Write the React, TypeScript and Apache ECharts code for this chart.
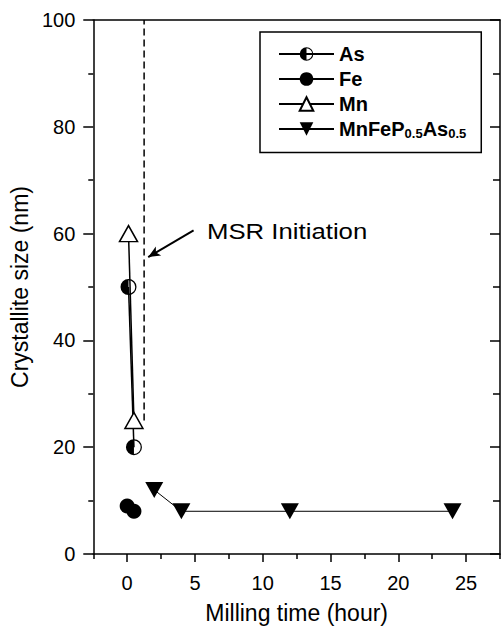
import React, { useEffect, useRef } from "react";
import * as echarts from "echarts";

const asData: number[][] = [[0.1, 50], [0.5, 20]];
const feData: number[][] = [[0, 9], [0.5, 8]];
const mnData: number[][] = [[0.1, 60], [0.5, 25]];
const alloyData: number[][] = [[2, 12], [4, 8], [12, 8], [24, 8]];
const msrLine: number[][] = [[1.25, 25], [1.25, 100]];
const msrArrow: number[][] = [[4.9, 60.6], [1.55, 55.6]];

const xMajor = [0, 5, 10, 15, 20, 25];
const xMinor = [-2.5, 2.5, 7.5, 12.5, 17.5, 22.5, 27.5];
const yMajor = [0, 20, 40, 60, 80, 100];
const yMinor = [10, 30, 50, 70, 90];

const seriesNames = ["As", "Fe", "Mn", "MnFeP0.5As0.5"];

const FONT = "'Liberation Sans', Arial, Helvetica, sans-serif";
const HALF =
  "path://M10,0 A10,10 0 0,0 10,20 Z M10,0 A10,10 0 0,1 10,20 L10,18.4 A8.4,8.4 0 0,0 10,1.6 Z";

export default function App() {
  const ref = useRef<HTMLDivElement>(null);
  useEffect(() => {
    if (!ref.current) return;
    const chart = echarts.init(ref.current, undefined, { renderer: "svg" });
    const black = "#000";
    const lineAx = { onZero: false, lineStyle: { color: black, width: 1.5 } };
    const noLine = { show: false, onZero: false };
    const common = { type: "value", min: -2.5, max: 27.5, splitLine: { show: false } };
    const yCommon = { type: "value", min: 0, max: 100, splitLine: { show: false } };
    chart.setOption({
      animation: false,
      backgroundColor: "#fff",
      grid: { left: 93, right: 2, top: 20, bottom: 71, containLabel: false },
      xAxis: [
        {
          ...common,
          position: "bottom",
          axisLine: lineAx,
          axisTick: { customValues: xMajor, length: 8, lineStyle: { color: black, width: 1.5 } },
          axisLabel: { customValues: xMajor, color: black, fontSize: 20, fontFamily: FONT, margin: 19 },
          name: "Milling time (hour)",
          nameLocation: "middle",
          nameGap: 47,
          nameTextStyle: { color: black, fontSize: 23, fontFamily: FONT },
        },
        {
          ...common,
          position: "bottom",
          axisLine: noLine,
          axisTick: { customValues: xMinor, length: 5, lineStyle: { color: black, width: 1.5 } },
          axisLabel: { show: false },
        },
        {
          ...common,
          position: "top",
          axisLine: lineAx,
          axisTick: { show: false },
          axisLabel: { show: false },
        },
      ],
      yAxis: [
        {
          ...yCommon,
          position: "left",
          axisLine: lineAx,
          axisTick: { customValues: yMajor, length: 10, lineStyle: { color: black, width: 1.5 } },
          axisLabel: { customValues: yMajor, color: black, fontSize: 20, fontFamily: FONT, margin: 18 },
          name: "Crystallite size (nm)",
          nameLocation: "middle",
          nameGap: 49,
          nameTextStyle: { color: black, fontSize: 23, fontFamily: FONT },
        },
        {
          ...yCommon,
          position: "left",
          axisLine: noLine,
          axisTick: { customValues: yMinor, length: 5, lineStyle: { color: black, width: 1.5 } },
          axisLabel: { show: false },
        },
        {
          ...yCommon,
          position: "right",
          axisLine: lineAx,
          axisTick: { inside: true, customValues: yMajor, length: 10, lineStyle: { color: black, width: 1.5 } },
          axisLabel: { show: false },
        },
        {
          ...yCommon,
          position: "right",
          axisLine: noLine,
          axisTick: { inside: true, customValues: yMinor, length: 7, lineStyle: { color: black, width: 1.5 } },
          axisLabel: { show: false },
        },
      ],
      legend: {
        data: seriesNames,
        orient: "vertical",
        left: 260,
        top: 32,
        itemWidth: 55,
        itemHeight: 17,
        itemGap: 5,
        padding: [12, 15, 13, 18],
        borderColor: black,
        borderWidth: 1.5,
        formatter: (name: string) =>
          name === "MnFeP0.5As0.5" ? "{b|MnFeP}{s|0.5}{b|As}{s|0.5}" : "{b|" + name + "}",
        textStyle: {
          color: black,
          rich: {
            b: { fontSize: 20, fontWeight: "bold", fontFamily: FONT, lineHeight: 21, color: black },
            s: { fontSize: 13, fontWeight: "bold", fontFamily: FONT, lineHeight: 5, verticalAlign: "bottom", color: black },
          },
        },
      },
      series: [
        {
          name: "As",
          type: "line",
          data: asData,
          symbol: HALF,
          symbolSize: 16,
          itemStyle: { color: black, borderWidth: 0 },
          lineStyle: { color: black, width: 1.5 },
        },
        {
          name: "Fe",
          type: "line",
          data: feData,
          symbol: "circle",
          symbolSize: 15,
          itemStyle: { color: black },
          lineStyle: { color: black, width: 1.5 },
        },
        {
          name: "Mn",
          type: "line",
          data: mnData,
          symbol: "triangle",
          symbolSize: [18, 16],
          itemStyle: { color: "#fff", borderColor: black, borderWidth: 1.5 },
          lineStyle: { color: black, width: 1.5 },
        },
        {
          name: "MnFeP0.5As0.5",
          type: "line",
          data: alloyData,
          symbol: "triangle",
          symbolRotate: 180,
          symbolSize: [18, 16],
          itemStyle: { color: black },
          lineStyle: { color: black, width: 1 },
        },
        {
          name: "MSR",
          type: "line",
          data: msrLine,
          symbol: "none",
          lineStyle: { color: black, width: 1.5, type: [7, 4] },
          silent: true,
          markLine: {
            silent: true,
            symbol: ["none", "arrow"],
            symbolSize: [8, 12],
            label: { show: false },
            lineStyle: { color: black, width: 2, type: "solid" },
            data: [[{ coord: msrArrow[0] }, { coord: msrArrow[1] }]],
          },
        },
      ],
      graphic: [
        {
          type: "text",
          left: 207,
          top: 219,
          scaleX: 1.12,
          style: { text: "MSR Initiation", fontSize: 23, fontFamily: FONT, fill: black },
        },
      ],
    });
    return () => chart.dispose();
  }, []);
  return (
    <div
      ref={ref}
      style={{ position: "absolute", left: 0, top: 0, width: 502, height: 629, overflow: "hidden" }}
    />
  );
}
